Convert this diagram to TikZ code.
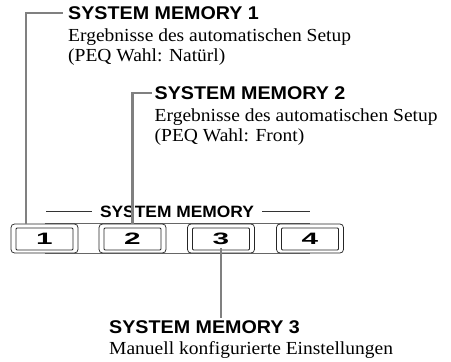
\documentclass[tikz,border=0pt]{standalone}
\usepackage{fontspec}
\setmainfont{Liberation Serif}[FakeStretch=1.06]
\newfontfamily\hsans{Liberation Sans}[FakeStretch=1.07]
\newfontfamily\psans{Liberation Sans}[FakeStretch=1.06]
\newfontfamily\dsans{Liberation Sans}[FakeStretch=1.8]
\usetikzlibrary{backgrounds}
\begin{document}
\begin{tikzpicture}[x=1pt,y=-1pt,
  title/.style={font=\hsans\bfseries\fontsize{18.4}{20}\selectfont, inner sep=0pt, anchor=base west},
  body/.style={font=\fontsize{18.4}{20}\selectfont, inner sep=0pt, anchor=base west},
  plabel/.style={font=\psans\bfseries\fontsize{16.4}{18}\selectfont, inner sep=0pt, anchor=base},
  leader/.style={draw=black!50, line width=2.2pt},
  btnout/.style={draw=black!85, line width=0.75pt, fill=white, rounded corners=3.5pt, minimum width=67pt, minimum height=29pt, inner sep=0pt},
  btnin/.style={draw=black!85, line width=0.75pt, rounded corners=1pt, minimum width=57pt, minimum height=22pt, inner sep=0pt, font=\dsans\bfseries\fontsize{16.5}{18}\selectfont},
  panel/.style={draw=black!60, line width=0.6pt},
  rule/.style={draw=black!80, line width=0.75pt}
]
\useasboundingbox (0,0) rectangle (451,362);

% buttons
\node[btnout] (b1) at (44.5,238.5) {};
\node[btnout] (b2) at (132.5,238.5) {};
\node[btnout] (b3) at (221,238.5) {};
\node[btnout] (b4) at (310,238.5) {};
\node[btnin] (k1) at (44.5,239) {1};
\node[btnin] (k2) at (132.5,239) {2};
\node[btnin] (k3) at (221,239) {3};
\node[btnin] (k4) at (310,239) {4};
\begin{scope}[on background layer]
  \draw[panel] (b1.north) -- (b4.north);
  \draw[panel] (b1.south) -- (b4.south);
\end{scope}

% panel label
\node[plabel] (pl) at (177,217) {SYSTEM MEMORY};
\coordinate (pl1) at ([xshift=-8pt]pl.west);
\coordinate (pl2) at ([xshift=-54pt]pl.west);
\coordinate (pr1) at ([xshift=8pt]pl.east);
\coordinate (pr2) at ([xshift=56pt]pl.east);
\draw[rule] (pl1) -- (pl2);
\draw[rule] (pr1) -- (pr2);

% text blocks
\node[title] (t1) at (68,19.5) {SYSTEM MEMORY 1};
\node[body] (t1a) at (68,41.5) {Ergebnisse des automatischen Setup};
\node[body] (t1b) at (68,61) {(PEQ Wahl: Natürl)};

\node[title] (t2) at (154.5,99.5) {SYSTEM MEMORY 2};
\node[body] (t2a) at (154.5,121.5) {Ergebnisse des automatischen Setup};
\node[body] (t2b) at (154.5,141) {(PEQ Wahl: Front)};

\node[title] (t3) at (109,333.5) {SYSTEM MEMORY 3};
\node[body] (t3a) at (109,354.5) {Manuell konfigurierte Einstellungen};

% leaders
\coordinate (x1) at (26,0);
\draw[leader] (b1.north -| x1) |- ([xshift=-5pt]t1.west);
\draw[leader] (b2.north) |- ([xshift=-3pt]t2.west);
\draw[leader] ([yshift=2pt]k3.south) -- ([yshift=2pt]k3.south |- t3.north);
\end{tikzpicture}
\end{document}
